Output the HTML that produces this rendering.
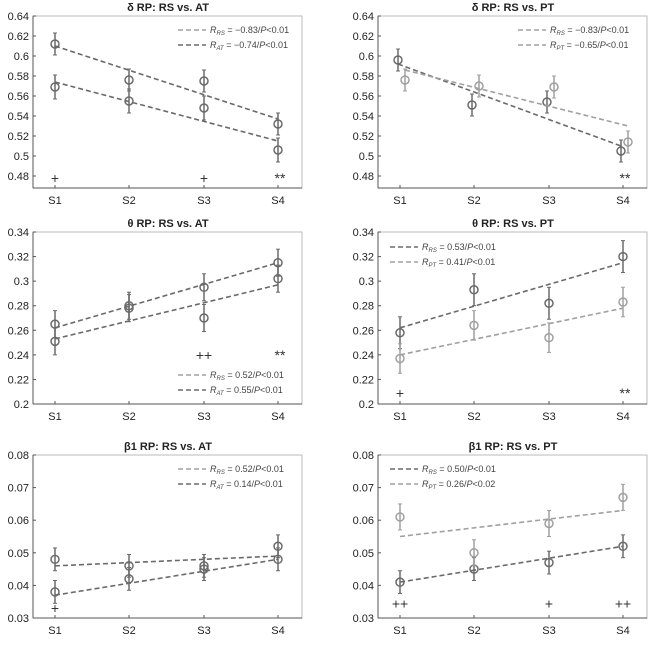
<!DOCTYPE html><html><head><style>body{margin:0;background:#fff}svg{display:block;font-family:"Liberation Sans",sans-serif}</style></head><body>
<svg id="s" width="650" height="647" xmlns="http://www.w3.org/2000/svg"></svg>
<script>
var S=document.getElementById('s'),h='';
var D='#6a6a6a',L='#a0a0a0';
function P(o){
 var x0=o.x0,x1=x0+269,y0=o.y0,y1=o.y1,sx=[x0+22,x0+96,x0+171,x0+245];
 function Y(v){return y1-(v-o.ymin)/(o.ymax-o.ymin)*(y1-y0);}
 h+='<rect x="'+x0+'" y="'+y0+'" width="269" height="'+(y1-y0)+'" fill="none" stroke="#bbb"/>';
 h+='<line x1="'+x0+'" y1="'+y1+'" x2="'+x1+'" y2="'+y1+'" stroke="#555"/><line x1="'+x0+'" y1="'+y0+'" x2="'+x0+'" y2="'+y1+'" stroke="#555"/>';
 h+='<text x="'+(x0+135)+'" y="'+(y0-5)+'" font-size="11" font-weight="bold" text-anchor="middle" fill="#222">'+o.t+'</text>';
 o.ticks.forEach(function(v){var y=Y(v);h+='<line x1="'+x0+'" y1="'+y+'" x2="'+(x0+3)+'" y2="'+y+'" stroke="#555"/><text x="'+(x0-4)+'" y="'+(y+4)+'" font-size="11" text-anchor="end" fill="#222">'+o.f(v)+'</text>';});
 sx.forEach(function(x,i){h+='<line x1="'+x+'" y1="'+y1+'" x2="'+x+'" y2="'+(y1-3)+'" stroke="#555"/><text x="'+x+'" y="'+(y1+16)+'" font-size="11" text-anchor="middle" fill="#222">S'+(i+1)+'</text>';});
 o.s.forEach(function(s){
  var dx=s.dx||0;
  h+='<line x1="'+(sx[0]+dx)+'" y1="'+Y(s.fit[0])+'" x2="'+(sx[3]+dx)+'" y2="'+Y(s.fit[1])+'" stroke="'+s.c+'" stroke-width="1.6" stroke-dasharray="5,3"/>';
  s.m.forEach(function(m,i){var x=sx[i]+dx;
   h+='<line x1="'+x+'" y1="'+Y(m-s.e)+'" x2="'+x+'" y2="'+Y(m+s.e)+'" stroke="'+s.c+'" stroke-width="1.5"/>';
   h+='<line x1="'+(x-2)+'" y1="'+Y(m-s.e)+'" x2="'+(x+2)+'" y2="'+Y(m-s.e)+'" stroke="'+s.c+'"/><line x1="'+(x-2)+'" y1="'+Y(m+s.e)+'" x2="'+(x+2)+'" y2="'+Y(m+s.e)+'" stroke="'+s.c+'"/>';
   h+='<circle cx="'+x+'" cy="'+Y(m)+'" r="4" fill="none" stroke="'+s.c+'" stroke-width="1.5"/>';});
  });
 o.k.forEach(function(k){h+='<text x="'+(sx[k[0]]+(k[3]||0))+'" y="'+(Y(k[1])+5)+'" font-size="14" text-anchor="middle" fill="#333">'+k[2]+'</text>';});
 o.lg.forEach(function(l,i){var lx=o.lx,ly=o.ly+i*15;
  h+='<line x1="'+lx+'" y1="'+ly+'" x2="'+(lx+28)+'" y2="'+ly+'" stroke="'+l[0]+'" stroke-width="1.6" stroke-dasharray="5,3"/>';
  h+='<text x="'+(lx+32)+'" y="'+(ly+3)+'" font-size="9" fill="#444"><tspan font-style="italic">R</tspan><tspan font-size="6" dy="2" font-style="italic">'+l[1]+'</tspan><tspan dy="-2"> = '+l[2]+'/</tspan><tspan font-style="italic">P</tspan>&lt;'+l[3]+'</text>';});
}
var f2=function(v){return (+v.toFixed(2)).toString();};
var f3=function(v){return v.toFixed(2);};
var dt=[0.48,0.5,0.52,0.54,0.56,0.58,0.6,0.62,0.64],tt=[0.2,0.22,0.24,0.26,0.28,0.3,0.32,0.34],bt=[0.03,0.04,0.05,0.06,0.07,0.08];
P({x0:33,y0:16,y1:188,ymin:0.468,ymax:0.64,ticks:dt,f:f2,t:'δ RP: RS vs. AT',
 s:[{c:D,e:0.011,m:[0.612,0.576,0.575,0.532],fit:[0.610,0.537]},{c:D,e:0.012,m:[0.569,0.555,0.548,0.506],fit:[0.574,0.515]}],
 k:[[0,0.478,'+'],[2,0.478,'+'],[3,0.478,'**',2]],lx:178,ly:30,lg:[[L,'RS','−0.83','0.01'],[D,'AT','−0.74','0.01']]});
P({x0:378,y0:16,y1:188,ymin:0.468,ymax:0.64,ticks:dt,f:f2,t:'δ RP: RS vs. PT',
 s:[{c:D,e:0.011,dx:-2,m:[0.596,0.551,0.554,0.505],fit:[0.592,0.510]},{c:L,e:0.011,dx:5,m:[0.576,0.570,0.569,0.514],fit:[0.586,0.530]}],
 k:[[3,0.478,'**',2]],lx:518,ly:30,lg:[[L,'RS','−0.83','0.01'],[L,'PT','−0.65','0.01']]});
P({x0:33,y0:232,y1:404,ymin:0.2,ymax:0.34,ticks:tt,f:f2,t:'θ RP: RS vs. AT',
 s:[{c:D,e:0.011,m:[0.265,0.280,0.295,0.315],fit:[0.262,0.315]},{c:D,e:0.011,m:[0.251,0.278,0.270,0.302],fit:[0.253,0.297]}],
 k:[[2,0.24,'++'],[3,0.24,'**',2]],lx:178,ly:375,lg:[[L,'RS','0.52','0.01'],[D,'AT','0.55','0.01']]});
P({x0:378,y0:232,y1:404,ymin:0.2,ymax:0.34,ticks:tt,f:f2,t:'θ RP: RS vs. PT',
 s:[{c:D,e:0.013,m:[0.258,0.293,0.282,0.320],fit:[0.262,0.315]},{c:L,e:0.012,m:[0.237,0.264,0.254,0.283],fit:[0.240,0.278]}],
 k:[[0,0.209,'+'],[3,0.209,'**',2]],lx:390,ly:247,lg:[[D,'RS','0.53','0.01'],[L,'PT','0.41','0.01']]});
P({x0:33,y0:455,y1:618,ymin:0.03,ymax:0.08,ticks:bt,f:f3,t:'β1 RP: RS vs. AT',
 s:[{c:D,e:0.0035,m:[0.048,0.046,0.046,0.052],fit:[0.046,0.049]},{c:D,e:0.0035,m:[0.038,0.042,0.045,0.048],fit:[0.037,0.048]}],
 k:[[0,0.033,'+']],lx:178,ly:469,lg:[[L,'RS','0.52','0.01'],[D,'AT','0.14','0.01']]});
P({x0:378,y0:455,y1:618,ymin:0.03,ymax:0.08,ticks:bt,f:f3,t:'β1 RP: RS vs. PT',
 s:[{c:D,e:0.0035,m:[0.041,0.045,0.047,0.052],fit:[0.041,0.052]},{c:L,e:0.004,m:[0.061,0.050,0.059,0.067],fit:[0.055,0.063]}],
 k:[[0,0.0345,'++'],[2,0.0345,'+'],[3,0.0345,'++']],lx:390,ly:469,lg:[[D,'RS','0.50','0.01'],[L,'PT','0.26','0.02']]});
S.innerHTML=h;
</script></body></html>
